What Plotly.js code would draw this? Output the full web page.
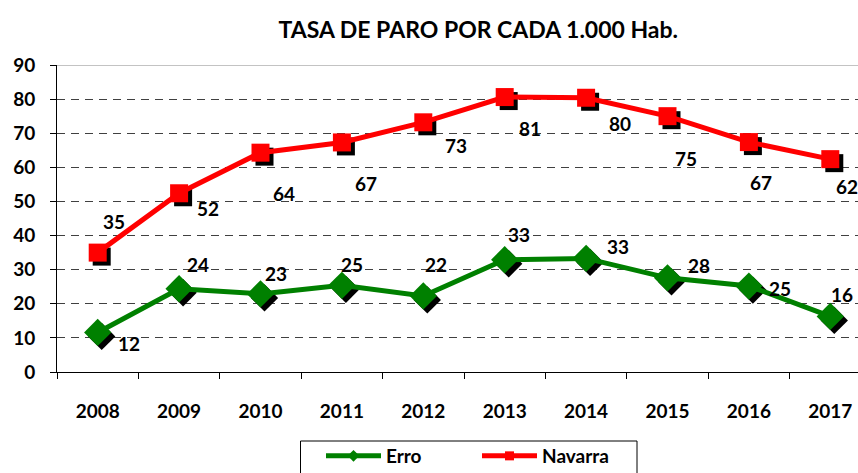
<!DOCTYPE html>
<html>
<head>
<meta charset="utf-8">
<script src="https://cdn.plot.ly/plotly-3.0.1.min.js"></script>
<style>html,body{margin:0;padding:0;background:#fff;}#chart{width:858px;height:473px;}</style>
</head>
<body>
<div id="chart"></div>
<script>
// ---- data ----
const years = ['2008','2009','2010','2011','2012','2013','2014','2015','2016','2017'];
const erro = [11.6, 24.4, 22.9, 25.4, 22.3, 32.9, 33.3, 27.6, 25.2, 16.3];
const navarra = [35.0, 52.4, 64.3, 67.3, 73.2, 80.6, 80.4, 75.0, 67.4, 62.4];
const yTicks = [0, 10, 20, 30, 40, 50, 60, 70, 80, 90];

// ---- label offsets (px, relative to each point) ----
const navOff = [[16,31],[29,-15],[23,-41],[24,-41],[33,-23],[25,-31],[34,-26],[18,-42],[12,-40],[17,-27]];
const erroOff = [[31,-11],[19,24],[15,20],[10,21],[13,31],[14,25],[32,12],[31,12],[31,-2],[12,22]];

const W = 858, H = 473, L = 57, R = 0, T = 65, B = 101;
const plotW = W - L - R, plotH = H - T - B;
const band = 81.4;
const xr = [-0.5, -0.5 + plotW / band];
const yr = [0, 90];
const sh = 4;
const dx = sh / band, dy = sh * (yr[1] - yr[0]) / plotH;

const FONT = 'Lato, "Open Sans", sans-serif';
const FS = 19;

function shadow(vals, sym, size) {
  return {x: years, y: vals, xaxis: 'x', yaxis: 'y', type: 'scatter', mode: 'markers',
    marker: {symbol: sym, size: size, color: '#000000'}, showlegend: false, hoverinfo: 'skip'};
}

const traces = [
  shadow(erro, 'diamond', 21),
  shadow(navarra, 'square', 18),
  {x: years, y: erro, xaxis: 'x2', yaxis: 'y2', type: 'scatter', mode: 'lines+markers', name: 'Erro', showlegend: false,
    line: {color: '#008000', width: 5}, marker: {symbol: 'diamond', size: 21, color: '#008000'}},
  {x: years, y: navarra, xaxis: 'x2', yaxis: 'y2', type: 'scatter', mode: 'lines+markers', name: 'Navarra', showlegend: false,
    line: {color: '#FF0000', width: 5}, marker: {symbol: 'square', size: 18, color: '#FF0000'}},
  // legend-only entries (no data drawn)
  {x: [null], y: [null], xaxis: 'x2', yaxis: 'y2', type: 'scatter', mode: 'lines+markers', name: 'Erro',
    line: {color: '#008000', width: 5}, marker: {symbol: 'diamond', size: 9, color: '#008000'}},
  {x: [null], y: [null], xaxis: 'x2', yaxis: 'y2', type: 'scatter', mode: 'lines+markers', name: 'Navarra',
    line: {color: '#FF0000', width: 5}, marker: {symbol: 'square', size: 9, color: '#FF0000'}}
];

const annotations = [];
function addLabels(vals, offs) {
  vals.forEach((v, i) => {
    annotations.push({x: i, y: v, xref: 'x2', yref: 'y2', text: v.toFixed(0),
      showarrow: false, xshift: offs[i][0], yshift: offs[i][1],
      font: {family: FONT, size: FS, color: '#000', weight: 'bold'}});
  });
}
addLabels(navarra, navOff);
addLabels(erro, erroOff);

// legend frame in pixels -> paper fractions
const px2x = p => (p - L) / plotW;
const px2y = p => (T + plotH - p) / plotH;

const layout = {
  width: W, height: H,
  margin: {l: L, r: R, t: T, b: B, pad: 0, autoexpand: false},
  paper_bgcolor: '#ffffff', plot_bgcolor: '#ffffff',
  font: {family: FONT, size: FS, color: '#000', weight: 'bold'},
  title: {text: 'TASA DE PARO POR CADA 1.000 Hab.', x: 0.526, xref: 'paper', xanchor: 'center',
    y: 1 - 30 / H, yref: 'container', yanchor: 'middle',
    font: {family: FONT, size: 23, color: '#000', weight: 'bold'}},
  xaxis: {type: 'category', range: [xr[0] - dx, xr[1] - dx], visible: false, fixedrange: true},
  yaxis: {range: [yr[0] + dy, yr[1] + dy], visible: false, fixedrange: true},
  xaxis2: {type: 'category', overlaying: 'x', anchor: 'y2', side: 'bottom', range: xr,
    showline: true, linecolor: '#000', linewidth: 1, showgrid: false, zeroline: false,
    ticks: 'outside', tickson: 'boundaries', ticklen: 6, tickcolor: '#000',
    ticklabelstandoff: 22,
    tickfont: {family: FONT, size: FS, color: '#000', weight: 'bold'}},
  yaxis2: {overlaying: 'y', anchor: 'x2', side: 'left', range: yr, tickvals: yTicks,
    showline: true, linecolor: '#000', linewidth: 1, zeroline: false,
    showgrid: true, gridcolor: '#404040', gridwidth: 1, griddash: '8px,6px',
    ticks: 'outside', ticklen: 6, tickcolor: '#000', ticklabelstandoff: 11,
    tickfont: {family: FONT, size: FS, color: '#000', weight: 'bold'}},
  shapes: [
    {type: 'line', xref: 'paper', yref: 'y2', x0: 0, x1: 1, y0: 90, y1: 90,
      line: {color: '#888888', width: 1}},
    {type: 'rect', xref: 'paper', yref: 'paper', x0: px2x(300.5), x1: px2x(637), y0: px2y(441), y1: px2y(485),
      line: {color: '#000', width: 1}, fillcolor: 'rgba(0,0,0,0)', layer: 'above'}
  ],
  annotations: annotations,
  legend: {orientation: 'h', xref: 'container', yref: 'container', x: 321 / W, xanchor: 'left',
    y: 1 - 437 / H, yanchor: 'top',
    borderwidth: 0, bgcolor: 'rgba(0,0,0,0)',
    font: {family: FONT, size: FS, color: '#000', weight: 'bold'}, itemwidth: 55, entrywidth: 86, tracegroupgap: 0}
};

Plotly.newPlot('chart', traces, layout, {displayModeBar: false, staticPlot: true});
</script>
</body>
</html>
